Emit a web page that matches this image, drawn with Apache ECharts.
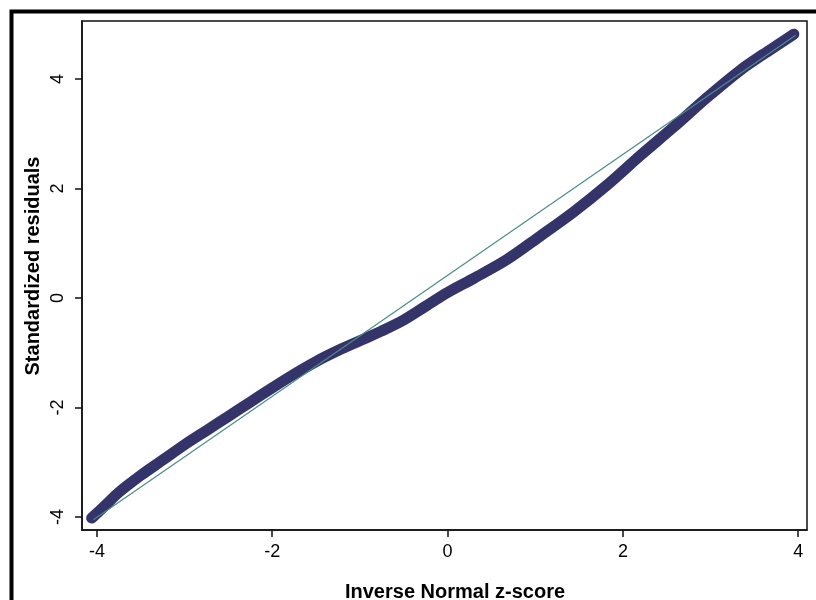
<!DOCTYPE html>
<html>
<head>
<meta charset="utf-8">
<script src="https://cdn.jsdelivr.net/npm/echarts@6/dist/echarts.min.js"></script>
<style>
html,body{margin:0;padding:0;background:#fff;}
#chart{width:816px;height:600px;}
</style>
</head>
<body>
<div id="chart"></div>
<script>
// Tick labels
const xTicks = [-4, -2, 0, 2, 4];
const yTicks = [-4, -2, 0, 2, 4];
// Ordered standardized residuals vs inverse normal quantiles
const zScores = [-4.06,-3.9,-3.75,-3.5,-3.25,-3.0,-2.75,-2.5,-2.25,-2.0,-1.75,-1.5,-1.25,-1.0,-0.75,-0.5,-0.25,0,0.3,0.675,1.056,1.436,1.817,2.197,2.577,2.958,3.338,3.6,3.8,3.95];
const residuals = [-4.02,-3.78,-3.55,-3.24,-2.96,-2.68,-2.42,-2.16,-1.90,-1.64,-1.39,-1.16,-0.96,-0.78,-0.60,-0.40,-0.15,0.10,0.36,0.70,1.13,1.57,2.06,2.60,3.12,3.66,4.16,4.45,4.66,4.82];
// Reference line endpoints
const refZ = [-4.04, 3.97];
const refR = [-4.05, 4.80];

const chart = echarts.init(document.getElementById('chart'), null, {renderer: 'canvas'});
const FONT = '"Liberation Sans", Arial, sans-serif';
const bandData = zScores.map((z, i) => [z, residuals[i]]);
const refData = refZ.map((z, i) => [z, refR[i]]);

chart.setOption({
  animation: false,
  backgroundColor: '#fff',
  grid: {left: 82, top: 21, right: 9, bottom: 70, show: true, borderColor: '#111', borderWidth: 1.5, backgroundColor: '#fff'},
  xAxis: {
    type: 'value', min: -4.17, max: 4.10, splitNumber: 4,
    axisLine: {show: true, onZero: false, lineStyle: {color: '#111', width: 1.5}},
    axisTick: {show: true, length: 7, inside: false, lineStyle: {color: '#111', width: 1.5}, customValues: xTicks},
    axisLabel: {color: '#000', fontFamily: FONT, fontSize: 18, margin: 13, customValues: xTicks},
    splitLine: {show: false}
  },
  yAxis: {
    type: 'value', min: -4.237, max: 5.06, splitNumber: 4,
    axisLine: {show: true, onZero: false, lineStyle: {color: '#111', width: 1.5}},
    axisTick: {show: true, length: 7, inside: false, lineStyle: {color: '#111', width: 1.5}, customValues: yTicks},
    axisLabel: {color: '#000', fontFamily: FONT, fontSize: 18, margin: 15, rotate: 90, customValues: yTicks},
    splitLine: {show: false}
  },
  series: [
    {
      type: 'line', data: bandData, smooth: 0.3, symbol: 'none', z: 2,
      lineStyle: {color: '#34346a', width: 11, cap: 'round', join: 'round'}
    },
    {
      type: 'line', data: refData, symbol: 'none', z: 3,
      lineStyle: {color: '#4a8c88', width: 1.2}
    }
  ],
  graphic: [
    {type: 'rect', shape: {x: 11.5, y: 11.5, width: 900, height: 700}, style: {fill: 'none', stroke: '#000', lineWidth: 4}, z: 10},
    {type: 'text', x: 455, y: 592, style: {text: 'Inverse Normal z-score', font: 'bold 20px ' + FONT, fill: '#000', textAlign: 'center', textVerticalAlign: 'middle'}},
    {type: 'text', x: 33, y: 266, rotation: Math.PI / 2, style: {text: 'Standardized residuals', font: 'bold 20px ' + FONT, fill: '#000', textAlign: 'center', textVerticalAlign: 'middle'}}
  ]
});
</script>
</body>
</html>
